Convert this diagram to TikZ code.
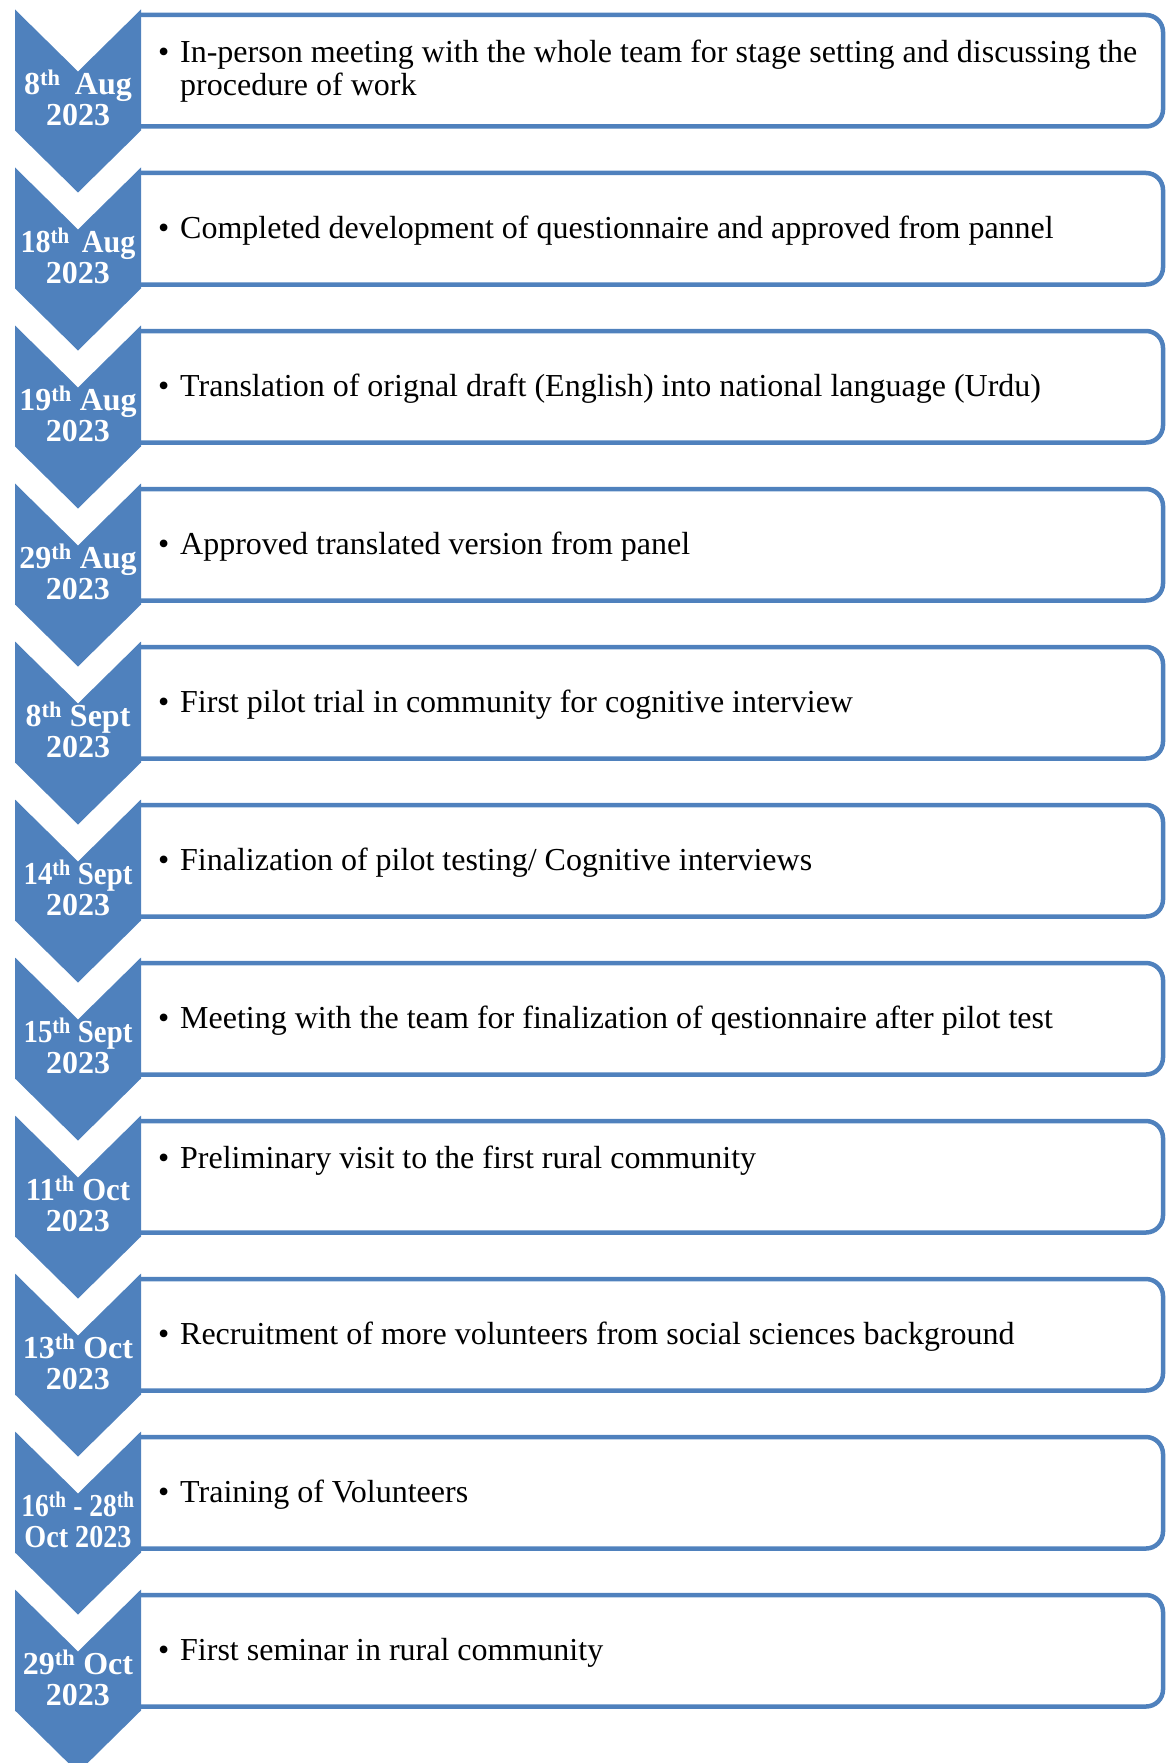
\documentclass[tikz,border=0pt]{standalone}
\usepackage{fontspec}
\setmainfont{Liberation Serif}
\usepackage{graphicx}
\usepackage{tikz}
\usetikzlibrary{calc}
\definecolor{Timeline}{RGB}{79,129,189}
\newcommand{\squeeze}[2]{\scalebox{#1}[1]{#2}}

\begin{document}
\begin{tikzpicture}[x=1pt,y=-1pt,
  chevron/.style={fill=Timeline},
  stagebox/.style={draw=Timeline,line width=4.5pt,rounded corners=17pt},
  datelbl/.style={text=white,font=\fontsize{32}{31}\selectfont\bfseries,align=center,anchor=base,inner sep=0pt},
  tasklbl/.style={font=\fontsize{32}{33}\selectfont,align=left,anchor=base west,inner sep=0pt}]
\useasboundingbox (0,0) rectangle (1167,1763);
\clip (0,0) rectangle (1167,1763);
%
% boxes and arrows
\foreach \i in {0,...,10}{
  \pgfmathsetmacro{\t}{9.5+158*\i}
  \draw[stagebox] (141,\t+5.5) -- (1163,\t+5.5) -- (1163,\t+117) -- (141,\t+117);
  \fill[chevron] (15,\t) -- (78,\t+62) -- (141,\t) -- (141,\t+121) -- (78,\t+183) -- (15,\t+121) -- cycle;
}
%
% dates (base = last line)
\node[datelbl] (d1) at (78,125.5) {8\textsuperscript{th}\hspace{0.45em}Aug\\2023};
\node[datelbl] (d2) at (78,283.5) {\squeeze{0.94}{18\textsuperscript{th}\hspace{0.4em}Aug}\\2023};
\node[datelbl] (d3) at (78,441.5) {19\textsuperscript{th} Aug\\2023};
\node[datelbl] (d4) at (78,599.5) {29\textsuperscript{th} Aug\\2023};
\node[datelbl] (d5) at (78,757.5) {8\textsuperscript{th} Sept\\2023};
\node[datelbl] (d6) at (78,915.5) {\squeeze{0.9}{14\textsuperscript{th} Sept}\\2023};
\node[datelbl] (d7) at (78,1073.5) {\squeeze{0.9}{15\textsuperscript{th} Sept}\\2023};
\node[datelbl] (d8) at (78,1231.5) {\squeeze{0.96}{11\textsuperscript{th} Oct}\\2023};
\node[datelbl] (d9) at (78,1389.5) {13\textsuperscript{th} Oct\\2023};
\node[datelbl] (d10) at (78,1547.5) {\squeeze{0.86}{16\textsuperscript{th} - 28\textsuperscript{th}}\\\squeeze{0.88}{Oct 2023}};
\node[datelbl] (d11) at (78,1705.5) {29\textsuperscript{th} Oct\\2023};
%
% tasks
\node[tasklbl] (t1) at (158,96) {\makebox[22pt][l]{\textbullet}In-person meeting with the whole team for stage setting and discussing the\\\hspace*{22pt}procedure of work};
\node[tasklbl] (t2) at (158,238.5) {\makebox[22pt][l]{\textbullet}Completed development of questionnaire and approved from pannel};
\node[tasklbl] (t3) at (158,396.5) {\makebox[22pt][l]{\textbullet}Translation of orignal draft (English) into national language (Urdu)};
\node[tasklbl] (t4) at (158,554.5) {\makebox[22pt][l]{\textbullet}Approved translated version from panel};
\node[tasklbl] (t5) at (158,712.5) {\makebox[22pt][l]{\textbullet}First pilot trial in community for cognitive interview};
\node[tasklbl] (t6) at (158,870.5) {\makebox[22pt][l]{\textbullet}Finalization of pilot testing/ Cognitive interviews};
\node[tasklbl] (t7) at (158,1028.5) {\makebox[22pt][l]{\textbullet}Meeting with the team for finalization of qestionnaire after pilot test};
\node[tasklbl] (t8) at (158,1168) {\makebox[22pt][l]{\textbullet}Preliminary visit to the first rural community};
\node[tasklbl] (t9) at (158,1344.5) {\makebox[22pt][l]{\textbullet}Recruitment of more volunteers from social sciences background};
\node[tasklbl] (t10) at (158,1502.5) {\makebox[22pt][l]{\textbullet}Training of Volunteers};
\node[tasklbl] (t11) at (158,1660.5) {\makebox[22pt][l]{\textbullet}First seminar in rural community};
%
\end{tikzpicture}
\end{document}
